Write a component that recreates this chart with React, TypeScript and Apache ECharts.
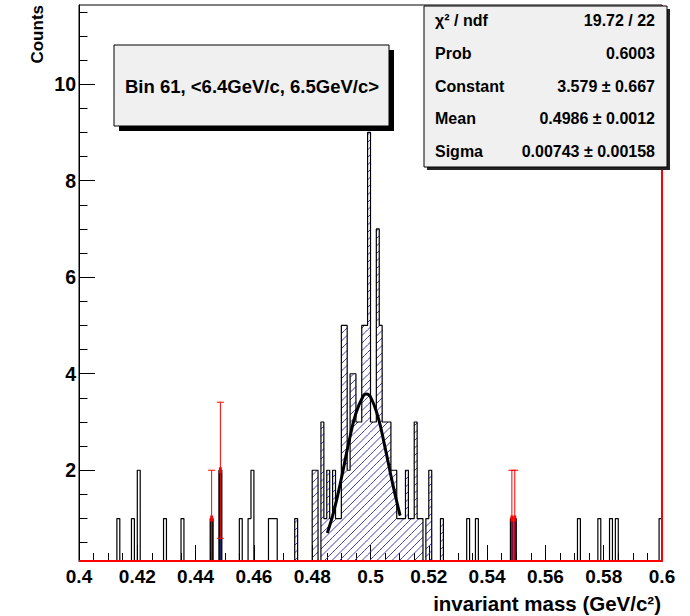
import React, { useEffect, useRef } from 'react';
import * as echarts from 'echarts';

// ---- axis ranges ----
const X_MIN = 0.4;
const X_MAX = 0.6;
const Y_MIN = 0.12;
const Y_MAX = 11.64;
const BIN_WIDTH = 0.001;

const yMajorTicks = [2, 4, 6, 8, 10];
const yMinorTicks = [0.5, 1, 1.5, 2, 2.5, 3, 3.5, 4, 4.5, 5, 5.5, 6, 6.5, 7, 7.5, 8, 8.5, 9, 9.5, 10, 10.5, 11, 11.5];

// ---- histogram: left edge of every non-empty bin and its count ----
const binStart = [
  0.413, 0.418, 0.420, 0.429, 0.435, 0.445, 0.448, 0.455, 0.458, 0.459,
  0.465, 0.466, 0.467, 0.474, 0.480, 0.481, 0.483, 0.484, 0.485, 0.486,
  0.487, 0.488, 0.489, 0.490, 0.491, 0.492, 0.493, 0.494, 0.495, 0.496,
  0.497, 0.498, 0.499, 0.500, 0.501, 0.502, 0.503, 0.504, 0.505, 0.506,
  0.507, 0.508, 0.509, 0.510, 0.511, 0.512, 0.513, 0.514, 0.515, 0.516,
  0.517, 0.519, 0.520, 0.524, 0.533, 0.536, 0.548, 0.549, 0.571, 0.578,
  0.582, 0.584, 0.599,
];
const binCount = [
  1, 1, 2, 1, 1, 1, 2, 1, 1, 2,
  1, 1, 1, 1, 2, 2, 3, 1, 2, 1,
  2, 1, 1, 5, 5, 2, 4, 4, 3, 3,
  5, 5, 9, 3, 3, 7, 5, 3, 3, 3,
  2, 2, 1, 1, 1, 2, 1, 1, 3, 1,
  1, 1, 2, 1, 1, 1, 1, 1, 1, 1,
  1, 1, 1,
];

// hatched (fit) region of the histogram
const hatchRange = [0.474, 0.525];

// ---- red points with error bars ----
const errBinStart = [0.445, 0.448, 0.548, 0.549];
const errValue = [1, 2, 1, 1];
const errLow = [0, 0.59, 0, 0];
const errHigh = [2, 3.41, 2, 2];

// dark filled bins
const blackBinStart = [0.445, 0.448];
const blackLow = [0, 0.59];
const blackHigh = [0.95, 1.95];
const navyBinStart = [0.448, 0.548, 0.549];
const navyLow = [0, 0, 0];
const navyHigh = [0.59, 0.95, 0.95];

// ---- gaussian fit curve ----
const fitX = [0.4852, 0.4875, 0.49, 0.4925, 0.495, 0.4975, 0.4986, 0.5, 0.5025, 0.505, 0.5075, 0.51, 0.5102];
const fitY = [0.70, 1.17, 1.83, 2.56, 3.18, 3.54, 3.58, 3.52, 3.12, 2.47, 1.75, 1.10, 1.06];

// ---- texts ----
const titleText = 'Bin 61, <6.4GeV/c, 6.5GeV/c>';
const statNames = ['χ² / ndf', 'Prob', 'Constant', 'Mean', 'Sigma'];
const statValues = ['19.72 / 22', '0.6003', '3.579 ± 0.667', '0.4986 ± 0.0012', '0.00743 ± 0.00158'];
const xTitle = 'invariant mass (GeV/c²)';
const yTitle = 'Counts';

const FONT = '"Liberation Sans", Arial, Helvetica, sans-serif';
const HATCH = '#3a3ab8';

function buildOption(): any {
  const nBins = Math.round((X_MAX - X_MIN) / BIN_WIDTH);
  const dense: number[] = new Array(nBins).fill(0);
  binStart.forEach((x, k) => {
    dense[Math.round((x - X_MIN) / BIN_WIDTH)] = binCount[k];
  });
  const stairData: number[][] = dense.map((c, i) => [X_MIN + i * BIN_WIDTH, c]);
  stairData.push([X_MAX, 0]);

  const hatchData: number[][] = [];
  binStart.forEach((x, k) => {
    if (x >= hatchRange[0] - 1e-9 && x < hatchRange[1] - 1e-9) hatchData.push([x, x + BIN_WIDTH, binCount[k]]);
  });

  const rectSeries = (name: string, starts: number[], lows: number[], highs: number[], color: string) => ({
    type: 'custom',
    name,
    coordinateSystem: 'cartesian2d',
    z: 4,
    clip: true,
    encode: { x: [0, 1], y: [2, 3] },
    data: starts.map((x, k) => [x, x + BIN_WIDTH, Math.max(lows[k], Y_MIN), highs[k]]),
    renderItem: (params: any, api: any) => {
      const tl = api.coord([api.value(0), api.value(3)]);
      const br = api.coord([api.value(1), api.value(2)]);
      return {
        type: 'rect',
        shape: { x: tl[0], y: tl[1], width: br[0] - tl[0], height: br[1] - tl[1] },
        style: { fill: color },
      };
    },
  });

  const textStyleBase = { fontFamily: FONT, fontWeight: 'bold', fill: '#000' };

  const statsX = 424, statsY = 6, statsW = 243, statsH = 161;
  const rowY = [20, 53.5, 86, 118.5, 151];
  const statTexts: any[] = [];
  statNames.forEach((n, i) => {
    statTexts.push({
      type: 'text', z: 101, x: statsX + 11, y: rowY[i],
      style: { ...textStyleBase, text: n, fontSize: 16, align: 'left', verticalAlign: 'middle' },
    });
    statTexts.push({
      type: 'text', z: 101, x: statsX + statsW - 12, y: rowY[i],
      style: { ...textStyleBase, text: statValues[i], fontSize: 16, align: 'right', verticalAlign: 'middle' },
    });
  });

  return {
    animation: false,
    backgroundColor: '#fff',
    grid: {
      left: 79, right: 28, top: 5, bottom: 55,
      show: true, borderColor: '#000', borderWidth: 1, backgroundColor: 'transparent',
      containLabel: false, outerBoundsMode: 'none',
    },
    xAxis: {
      type: 'value', min: X_MIN, max: X_MAX, interval: 0.02,
      axisLine: { show: true, lineStyle: { color: '#000', width: 1 } },
      axisTick: { show: true, inside: true, length: 16, lineStyle: { color: '#000', width: 1 } },
      minorTick: { show: true, splitNumber: 4, length: 8, lineStyle: { color: '#000', width: 1 } },
      splitLine: { show: false },
      axisLabel: {
        color: '#000', fontFamily: FONT, fontWeight: 'bold', fontSize: 19, margin: 6,
        formatter: (v: number) => String(+v.toFixed(3)),
      },
    },
    yAxis: [
      {
        type: 'value', min: Y_MIN, max: Y_MAX, position: 'left',
        axisLine: { show: true, lineStyle: { color: '#000', width: 1 } },
        axisTick: { show: true, inside: true, length: 8.5, customValues: yMinorTicks, lineStyle: { color: '#000' } },
        axisLabel: { show: false },
        splitLine: { show: false },
      },
      {
        type: 'value', min: Y_MIN, max: Y_MAX, position: 'left',
        axisLine: { show: false },
        axisTick: { show: true, inside: true, length: 16, customValues: yMajorTicks, lineStyle: { color: '#000' } },
        axisLabel: {
          show: true, customValues: yMajorTicks, color: '#000', fontFamily: FONT, fontWeight: 'bold', fontSize: 19.5, margin: 3,
        },
        splitLine: { show: false },
      },
    ],
    series: [
      {
        type: 'custom',
        name: 'hatch',
        coordinateSystem: 'cartesian2d',
        z: 2,
        clip: true,
        encode: { x: [0, 1], y: 2 },
        data: hatchData,
        renderItem: (params: any, api: any) => {
          const tl = api.coord([api.value(0), api.value(2)]);
          const br = api.coord([api.value(1), Y_MIN]);
          const X0 = tl[0], X1 = br[0], Y0 = tl[1], Y1 = br[1];
          const d = 7.5;
          const children: any[] = [];
          const cStart = Math.ceil((X0 + Y0) / d) * d;
          for (let c = cStart; c <= X1 + Y1; c += d) {
            const a = Math.max(X0, c - Y1);
            const b = Math.min(X1, c - Y0);
            if (b > a) {
              children.push({
                type: 'line',
                shape: { x1: a, y1: c - a, x2: b, y2: c - b },
                style: { stroke: HATCH, lineWidth: 1 },
              });
            }
          }
          return { type: 'group', children };
        },
      },
      rectSeries('dark', blackBinStart, blackLow, blackHigh, '#111'),
      rectSeries('navy', navyBinStart, navyLow, navyHigh, '#1c1c66'),
      {
        type: 'line',
        name: 'histogram',
        data: stairData,
        step: 'end',
        showSymbol: false,
        symbol: 'none',
        clip: true,
        z: 5,
        lineStyle: { color: '#000', width: 1.2 },
      },
      {
        type: 'custom',
        name: 'errors',
        coordinateSystem: 'cartesian2d',
        z: 6,
        clip: false,
        encode: { x: 0, y: [1, 2, 3] },
        data: errBinStart.map((x, k) => [x, errValue[k], Math.max(errLow[k], Y_MIN), errHigh[k]]),
        renderItem: (params: any, api: any) => {
          const x0 = api.value(0);
          const left = api.coord([x0, api.value(1)]);
          const right = api.coord([x0 + BIN_WIDTH, api.value(1)]);
          const cx = (left[0] + right[0]) / 2;
          const w = right[0] - left[0];
          const lo = api.coord([x0, api.value(2)])[1];
          const hi = api.coord([x0, api.value(3)])[1];
          const stroke = { stroke: '#ff0000', lineWidth: 1 };
          return {
            type: 'group',
            children: [
              { type: 'line', shape: { x1: cx, y1: lo, x2: cx, y2: hi }, style: stroke },
              { type: 'line', shape: { x1: cx - 3.5, y1: hi, x2: cx + 3.5, y2: hi }, style: stroke },
              { type: 'line', shape: { x1: cx - 3.5, y1: lo, x2: cx + 3.5, y2: lo }, style: stroke },
              { type: 'rect', shape: { x: left[0], y: left[1] - 3, width: w, height: 6 }, style: { fill: '#ff0000' } },
            ],
          };
        },
      },
      {
        type: 'line',
        name: 'baseline',
        data: [[X_MIN, Y_MIN], [X_MAX, Y_MIN], [X_MAX, Y_MAX]],
        showSymbol: false,
        symbol: 'none',
        clip: false,
        z: 7,
        lineStyle: { color: '#ff0000', width: 2 },
      },
      {
        type: 'line',
        name: 'fit',
        data: fitX.map((x, k) => [x, fitY[k]]),
        smooth: true,
        showSymbol: false,
        symbol: 'none',
        z: 8,
        lineStyle: { color: '#000', width: 3 },
      },
    ],
    graphic: [
      // title box
      { type: 'rect', z: 100, shape: { x: 119, y: 50, width: 275, height: 81 }, style: { fill: '#000' } },
      { type: 'rect', z: 100, shape: { x: 114, y: 45, width: 275, height: 81 }, style: { fill: '#f0f0f0', stroke: '#000', lineWidth: 1 } },
      {
        type: 'text', z: 101, x: 252, y: 86,
        style: { ...textStyleBase, text: titleText, fontSize: 18.5, align: 'center', verticalAlign: 'middle' },
      },
      // stats box
      { type: 'rect', z: 100, shape: { x: statsX + 3, y: statsY + 3, width: statsW, height: statsH }, style: { fill: '#222' } },
      { type: 'rect', z: 100, shape: { x: statsX, y: statsY, width: statsW, height: statsH }, style: { fill: '#f0f0f0', stroke: '#000', lineWidth: 1 } },
      ...statTexts,
      // axis titles
      {
        type: 'text', z: 101, x: 661, y: 603,
        style: { ...textStyleBase, text: xTitle, fontSize: 20.5, align: 'right', verticalAlign: 'middle' },
      },
      {
        type: 'text', z: 101, x: 37, y: 5, rotation: Math.PI / 2,
        style: { ...textStyleBase, text: yTitle, fontSize: 17, align: 'right', verticalAlign: 'middle' },
      },
    ],
  };
}

export default function App() {
  const ref = useRef<HTMLDivElement>(null);
  useEffect(() => {
    if (!ref.current) return;
    const chart = echarts.init(ref.current, null, { renderer: 'svg' });
    chart.setOption(buildOption());
    return () => chart.dispose();
  }, []);
  return (
    <div
      ref={ref}
      style={{ position: 'fixed', left: 0, top: 0, width: 690, height: 616, background: '#fff' }}
    />
  );
}
